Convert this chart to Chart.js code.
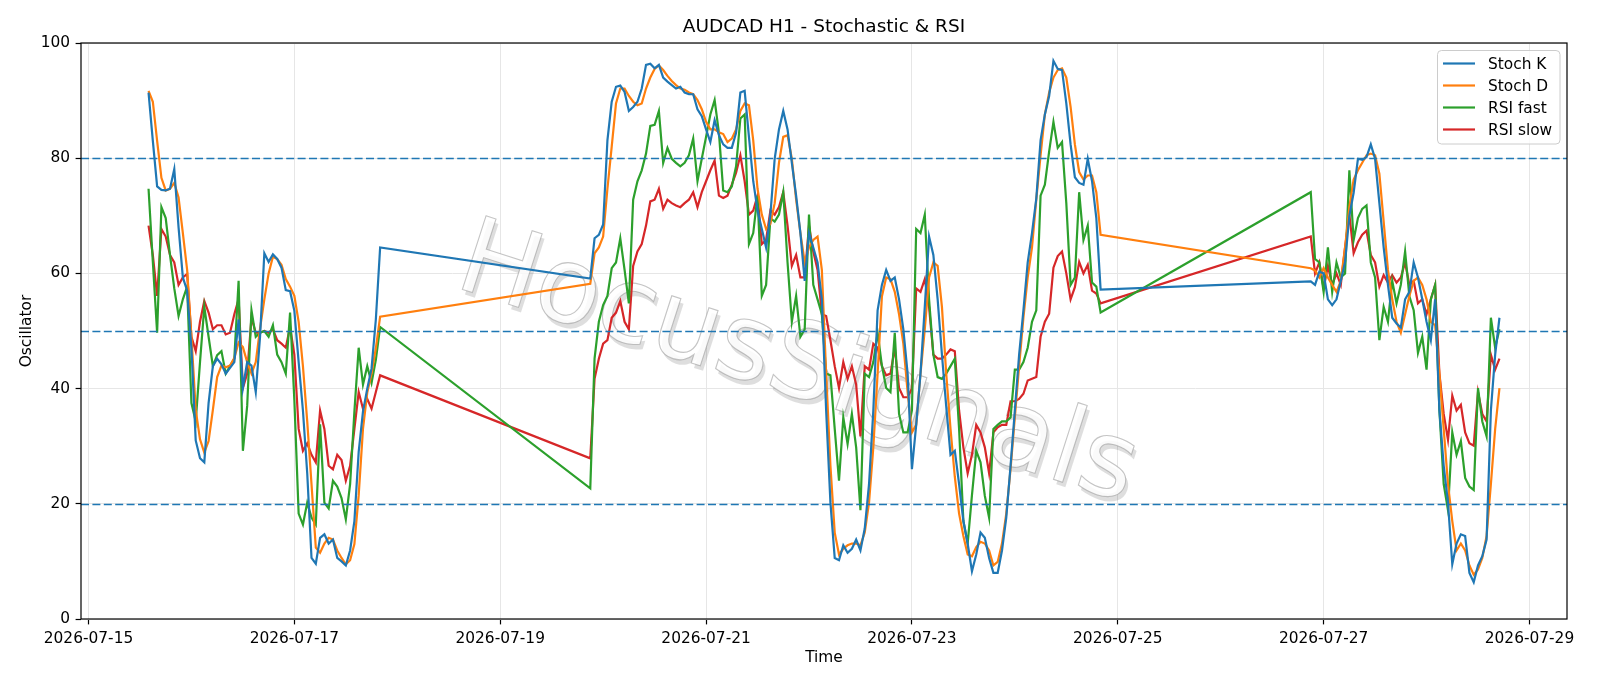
<!DOCTYPE html>
<html>
<head>
<meta charset="utf-8">
<title>AUDCAD H1 - Stochastic &amp; RSI</title>
<script src="https://cdn.jsdelivr.net/npm/chart.js@4.4.1/dist/chart.umd.min.js"></script>
<style>
  html, body { margin: 0; padding: 0; background: #fff; }
  #contenedor { width: 1600px; height: 686px; }
</style>
</head>
<body>
<div id="contenedor"><canvas id="graficaOsciladores" width="1600" height="686"></canvas></div>
<script>
// ====================================================================
// Datos (H1, una vela por hora; la línea une los huecos del fin de semana)
// ====================================================================

// sesiones de mercado: primera y última vela de cada tramo
const sesiones = [
    ['2026-07-15T14:00', '2026-07-17T20:00'],
    ['2026-07-19T21:00', '2026-07-24T20:00'],
    ['2026-07-26T21:00', '2026-07-28T17:00']
];

const etiquetasX = ['2026-07-15', '2026-07-17', '2026-07-19', '2026-07-21', '2026-07-23', '2026-07-25', '2026-07-27', '2026-07-29'];
const ticksY = [0, 20, 40, 60, 80, 100];
const nivelesGuia = [20, 50, 80];
const marcaAgua = 'HocusSignals';

const stochK = [
    // 15-17 jul
    91.4, 83, 75.1, 74.5, 74.4, 74.7, 78.1, 68, 59.3, 57,
    47, 31, 27.9, 27.2, 37.5, 43.9, 45.2, 44.2, 42.6, 43.6,
    44.6, 52, 40.1, 44.6, 44, 39.4, 49, 63.5, 62, 63.3,
    62.5, 61, 57.1, 56.9, 53.5, 44.6, 36.2, 25.3, 10.6, 9.6,
    14.1, 14.7, 13.1, 13.8, 10.6, 10, 9.3, 11.9, 17, 29,
    36, 40, 43.5, 52, 64.5,
    // 19-24 jul
    59.1, 66.1, 66.7, 68.5, 83.1, 89.8, 92.4, 92.6, 91.5, 88.2,
    88.9, 89.8, 92.1, 96.2, 96.4, 95.6, 96.2, 94, 93.3, 92.7,
    92.1, 92.4, 91.4, 91.1, 91.1, 88.5, 87.3, 85, 82.8, 86.6,
    84, 82.4, 81.8, 81.8, 84.4, 91.4, 91.7, 83.7, 76, 70.9,
    67.7, 64.5, 70.2, 79.9, 85, 88.2, 85, 79.2, 73.5, 67,
    58.7, 67, 64.5, 61.9, 55.5, 36.2, 20.2, 10.6, 10.2, 12.8,
    11.5, 12.2, 13.8, 11.9, 15.7, 23.4, 36.2, 53.6, 58, 60.6,
    58.7, 59.3, 55.5, 50.3, 42.6, 26, 33.7, 42.6, 54.2, 66.4,
    63.2, 55.5, 45.9, 36.9, 28.5, 29.2, 23.4, 17, 13.1, 8.3,
    11.2, 15, 14.1, 10.6, 8, 8, 11.9, 17.6, 26.6, 36.2,
    45.9, 53.6, 61.9, 67, 73, 83.1, 87.6, 90.8, 96.9, 95.5,
    95.3, 89.5, 82.4, 76.7, 75.7, 75.4, 79.9, 76, 69.6, 57.2,
    // 26-28 jul
    58.6, 58, 60.3, 60, 55.5, 54.5, 55.5, 58.7, 62, 70,
    74, 79.9, 79.7, 80.2, 82.4, 79.9, 72.2, 64.5, 58, 52.3,
    51.3, 50.6, 55.5, 56.8, 61.9, 59.3, 55.5, 51.6, 48.4, 55.5,
    36.2, 26.6, 20.2, 9.5, 13.1, 14.7, 14.4, 8, 6.4, 9.3,
    10.9, 13.8, 36.2, 45.9, 52.3
];

const stochD = [
    91.7, 89.8, 83, 76.6, 74.4, 74.7, 75.7, 73.2, 67, 60.6,
    49, 36.3, 31.2, 28.9, 30.9, 36.3, 42, 44, 43.7, 44,
    45.3, 48, 47.2, 44.6, 42.6, 44.6, 50.4, 55.5, 60, 62.9,
    62.5, 61.5, 59, 57.7, 56.1, 51.6, 43.9, 34.3, 23.4, 12.4,
    11.5, 13.1, 14.1, 13.8, 11.9, 10.6, 9.5, 10.2, 13, 21.5,
    33, 39.3, 42.6, 47, 52.5,
    58.2, 63.5, 64.5, 66.4, 74.7, 82, 89.5, 92.1, 92.1, 90.8,
    89.8, 89.2, 89.5, 92.1, 94, 95.5, 96.1, 95.3, 94.3, 93.4,
    92.7, 92.1, 91.9, 91.4, 91.1, 90.1, 88.5, 86.3, 85, 85,
    84.5, 84.2, 82.8, 83.4, 85, 88.2, 89.5, 89.2, 83.1, 74.7,
    70.2, 67.7, 68.6, 72.2, 79.2, 83.7, 84, 79.9, 72.8, 67,
    61.9, 64.5, 65.8, 66.4, 60.6, 42.6, 26.6, 15, 11.2, 12.2,
    12.8, 13.1, 13.1, 12.8, 15, 20.2, 29.8, 42.6, 56, 59.3,
    59, 56.8, 52.9, 47.8, 39.4, 32.4, 33.7, 42.6, 50.3, 59.3,
    61.9, 61.3, 54.2, 42.6, 33, 24.7, 18.3, 14.4, 11.2, 10.9,
    12.5, 13.4, 13.1, 11.9, 9.3, 9.9, 13.1, 18.3, 26, 35,
    43.9, 52.3, 59.3, 64.5, 72.8, 80.5, 87.6, 91.4, 94, 95.3,
    95.6, 94, 88.9, 82.4, 77.6, 76.3, 77, 77, 74.1, 66.7,
    60.9, 60.5, 59.3, 60.9, 59.3, 58, 56.8, 58.7, 64.5, 71.5,
    76.3, 77.9, 79.2, 80.5, 80.8, 80.5, 77.3, 69, 60.6, 55.5,
    51.6, 49.7, 52.9, 56.1, 58.7, 59.3, 58, 55.5, 51.6, 51,
    42.6, 33, 23.4, 17, 11.9, 13.1, 11.9, 9.3, 7.7, 8.6,
    10.6, 14.4, 23.4, 33, 40.1
];

const rsiFast = [
    74.7, 62, 49.7, 71.5, 69.6, 63.2, 57.4, 52.6, 55.5, 57.7,
    37.5, 34.3, 44.6, 54.2, 49, 43.9, 45.8, 46.5, 42.6, 43.9,
    45.2, 58.7, 29.2, 37, 53.6, 49, 49.7, 50, 49, 51,
    45.9, 44.6, 42.6, 53.2, 38, 18.3, 16.4, 20.2, 17.6, 16.4,
    33.8, 20.2, 19.2, 24, 23, 21, 17.3, 23.4, 36, 47.1,
    40.7, 43.9, 41, 45, 50.7,
    22.7, 45.2, 51.6, 54.5, 56.1, 60.9, 61.9, 66.1, 60.6, 54.8,
    72.8, 76, 77.9, 80.8, 85.6, 85.8, 88.2, 79.2, 81.8, 79.9,
    79.2, 78.6, 79.2, 80.5, 83.4, 76, 79.9, 83.7, 87.6, 90.1,
    84.4, 74.4, 74.1, 75.1, 78.6, 86.9, 87.6, 65.1, 67, 73.5,
    56.1, 58, 69.6, 69, 70.2, 74.1, 61.9, 51.6, 56.1, 49,
    50.3, 70.2, 58, 55.5, 52.9, 42.6, 42.3, 33, 24, 35,
    30.4, 35.6, 29.8, 18.9, 42.6, 42, 44.6, 49.7, 44, 40.1,
    39.4, 49.7, 35.6, 32.4, 32.4, 36.2, 67.7, 67, 70.2, 55.5,
    45.9, 42, 41.7, 42.6, 43.9, 45.2, 33, 17, 13.1, 21.5,
    29.2, 27.2, 21.4, 17.6, 33, 33.7, 34.3, 34.3, 35, 43.3,
    43.3, 44.6, 47.1, 51.6, 53.6, 73.5, 75.4, 81.2, 86.3, 81.8,
    82.8, 72.2, 58, 59.3, 74.1, 65.8, 68.3, 58.4, 57.7, 53.2,
    74.1, 62.5, 61.9, 56.8, 64.5, 56.8, 61.9, 59.3, 60, 77.9,
    65.8, 69.6, 71.2, 71.8, 61.9, 59.3, 48.4, 54.2, 51.6, 58.7,
    54.8, 58, 63.8, 56, 53.6, 46.2, 49, 43.3, 55.5, 58,
    36.2, 23.4, 18.9, 32.4, 28.5, 30.9, 24.5, 23, 22.4, 40.1,
    34.3, 31.7, 52.3, 47.1, 50.3
];

const rsiSlow = [
    68.3, 63.2, 56.1, 67.7, 66.4, 63.2, 61.9, 58, 59.3, 59.9,
    49, 46.5, 51.6, 55.2, 53.2, 50.3, 51, 51, 49.4, 49.7,
    52.9, 55.5, 40.1, 42.6, 52.3, 49.7, 49.7, 50, 49.7, 50.3,
    48.4, 47.8, 47.1, 50.7, 45.9, 33, 29.2, 30.5, 28.5, 27.2,
    36.2, 33, 26.6, 26, 28.5, 27.6, 24, 26.6, 33, 39.4,
    36.5, 38.2, 36.5, 39.4, 42.3,
    27.9, 41.7, 45.2, 47.8, 48.4, 52.3, 53.2, 55.2, 51.6, 50.3,
    61.3, 63.8, 65.1, 68.3, 72.5, 72.8, 74.7, 71.2, 72.8, 72.2,
    71.8, 71.5, 72.2, 72.8, 74.1, 71.5, 74.1, 76, 77.9, 79.6,
    73.5, 73.1, 73.5, 75.4, 77.5, 80.5, 76, 70.2, 70.9, 73.5,
    65.1, 65.8, 70.9, 70.2, 71.5, 74.1, 68.3, 61.3, 63.2, 59.3,
    59.3, 68.3, 63.8, 60.6, 52.9, 52.6, 48.4, 43.9, 40.1, 44.6,
    41.7, 43.9, 40.7, 31.7, 43.9, 43.3, 47.8, 47.1, 43.9, 42.3,
    42.6, 47.1, 40.1, 38.5, 38.5, 40, 57.4, 56.8, 59, 54.2,
    45.9, 45.2, 45.2, 45.9, 46.8, 46.5, 36.2, 29.8, 25.3, 28.5,
    33.7, 32.4, 29.8, 25.3, 32.4, 33.3, 33.7, 33.7, 37.8, 37.8,
    38.2, 39.1, 41.4, 41.7, 42, 49, 51.6, 53, 61, 63,
    63.8, 60, 55.5, 57.6, 62, 60, 61.5, 57, 56.5, 54.8,
    66.4, 60, 61.9, 57.4, 61.3, 58, 60, 58, 64.5, 70.2,
    63.5, 65.4, 66.7, 67.4, 63.2, 61.9, 57.7, 59.7, 58.4, 59.7,
    58.4, 59.3, 61.9, 58, 58.7, 54.8, 55.5, 52.9, 55.5, 58,
    42.6, 35.6, 31.1, 38.8, 36.2, 37.2, 32.4, 30.5, 30.1, 39.4,
    35.6, 34.3, 45.9, 43.3, 45.2
];

// ====================================================================
// Eje de tiempo: horas desde 2026-07-15 00:00 (no hay adaptador de fechas)
// ====================================================================
const ORIGEN = Date.parse('2026-07-15T00:00:00Z');
function aHoras(iso) {
    return (Date.parse(iso + (iso.length === 10 ? 'T00:00:00Z' : ':00Z')) - ORIGEN) / 3600000;
}

const tiempos = [];
sesiones.forEach(([ini, fin]) => {
    for (let h = aHoras(ini); h <= aHoras(fin); h++) tiempos.push(h);
});
const ticksX = etiquetasX.map(aHoras);

// margen del 5% a cada lado, como matplotlib
const margenX = (tiempos[tiempos.length - 1] - tiempos[0]) * 0.05;
const xMin = tiempos[0] - margenX;
const xMax = tiempos[tiempos.length - 1] + margenX;

const FUENTE = "'DejaVu Sans', Verdana, sans-serif";
const TAM = 15.4;

function serie(label, valores, color) {
    return {
        label: label,
        data: valores.map((v, i) => ({ x: tiempos[i], y: v })),
        borderColor: color,
        backgroundColor: color,
        borderWidth: 2.2,
        pointRadius: 0,
        tension: 0,
        fill: false
    };
}

// ====================================================================
// Plugin: marca de agua, líneas guía, marco, títulos y leyenda
// ====================================================================
const decoracion = {
    id: 'decoracion',
    beforeDatasetsDraw(chart) {
        const { ctx, chartArea: a } = chart;
        ctx.save();
        ctx.beginPath();
        ctx.rect(a.left, a.top, a.right - a.left, a.bottom - a.top);
        ctx.clip();
        ctx.translate(797, 368);
        ctx.rotate(17.8 * Math.PI / 180);
        ctx.font = '106px ' + FUENTE;
        ctx.textAlign = 'center';
        ctx.textBaseline = 'middle';
        // sombra
        ctx.fillStyle = 'rgba(0, 0, 0, 0.13)';
        ctx.fillText(marcaAgua, 4, 4);
        // texto
        ctx.fillStyle = 'rgba(255, 255, 255, 0.85)';
        ctx.fillText(marcaAgua, 0, 0);
        ctx.lineWidth = 1.1;
        ctx.strokeStyle = 'rgba(140, 140, 140, 0.5)';
        ctx.strokeText(marcaAgua, 0, 0);
        ctx.restore();
    },
    afterDatasetsDraw(chart) {
        const { ctx, chartArea: a, scales: { y } } = chart;
        ctx.save();
        ctx.strokeStyle = '#1f77b4';
        ctx.lineWidth = 1.6;
        ctx.setLineDash([8, 3.4]);
        nivelesGuia.forEach(n => {
            const py = Math.round(y.getPixelForValue(n)) + 0.5;
            ctx.beginPath();
            ctx.moveTo(a.left, py);
            ctx.lineTo(a.right, py);
            ctx.stroke();
        });
        ctx.restore();
    },
    afterDraw(chart) {
        const { ctx, chartArea: a } = chart;
        ctx.save();

        // marco
        ctx.strokeStyle = '#000';
        ctx.lineWidth = 1.2;
        ctx.strokeRect(a.left, a.top, a.right - a.left, a.bottom - a.top);

        // títulos
        ctx.fillStyle = '#000';
        ctx.textAlign = 'center';
        ctx.textBaseline = 'alphabetic';
        ctx.font = '18.5px ' + FUENTE;
        ctx.fillText('AUDCAD H1 - Stochastic & RSI', (a.left + a.right) / 2, 32);
        ctx.font = TAM + 'px ' + FUENTE;
        ctx.fillText('Time', (a.left + a.right) / 2, 662);
        ctx.save();
        ctx.translate(31, (a.top + a.bottom) / 2);
        ctx.rotate(-Math.PI / 2);
        ctx.fillText('Oscillator', 0, 0);
        ctx.restore();

        // leyenda
        const caja = { x: 1437.5, y: 50.5, w: 122.5, h: 93.5, r: 4 };
        ctx.beginPath();
        ctx.roundRect(caja.x, caja.y, caja.w, caja.h, caja.r);
        ctx.fillStyle = 'rgba(255, 255, 255, 0.8)';
        ctx.fill();
        ctx.strokeStyle = '#cccccc';
        ctx.lineWidth = 1;
        ctx.stroke();

        ctx.textAlign = 'left';
        ctx.textBaseline = 'middle';
        chart.data.datasets.forEach((ds, i) => {
            const cy = 63.5 + i * 22;
            ctx.strokeStyle = ds.borderColor;
            ctx.lineWidth = 2.2;
            ctx.beginPath();
            ctx.moveTo(1443, cy);
            ctx.lineTo(1475, cy);
            ctx.stroke();
            ctx.fillStyle = '#000';
            ctx.fillText(ds.label, 1488, cy + 1);
        });
        ctx.restore();
    }
};

// ====================================================================
// Gráfico
// ====================================================================
const ctx = document.getElementById('graficaOsciladores').getContext('2d');

const chartOsciladores = new Chart(ctx, {
    type: 'line',
    data: {
        datasets: [
            serie('Stoch K', stochK, '#1f77b4'),
            serie('Stoch D', stochD, '#ff7f0e'),
            serie('RSI fast', rsiFast, '#2ca02c'),
            serie('RSI slow', rsiSlow, '#d62728')
        ]
    },
    options: {
        responsive: false,
        animation: false,
        events: [],
        layout: {
            padding: { left: 0, right: 33, top: 43, bottom: 0 }
        },
        plugins: {
            legend: { display: false },
            title: { display: false },
            tooltip: { enabled: false }
        },
        scales: {
            x: {
                type: 'linear',
                min: xMin,
                max: xMax,
                afterBuildTicks: function(scale) {
                    scale.ticks = ticksX.map(v => ({ value: v }));
                },
                afterFit: function(scale) {
                    scale.height = 67;
                },
                border: { display: false },
                grid: {
                    color: '#e6e6e6',
                    lineWidth: 1,
                    tickLength: 5.4,
                    tickColor: '#000',
                    tickWidth: 1.2
                },
                ticks: {
                    autoSkip: false,
                    maxRotation: 0,
                    padding: 5,
                    color: '#000',
                    font: { family: FUENTE, size: TAM },
                    callback: function(value, index) {
                        return etiquetasX[index];
                    }
                }
            },
            y: {
                min: 0,
                max: 100,
                afterBuildTicks: function(scale) {
                    scale.ticks = ticksY.map(v => ({ value: v }));
                },
                afterFit: function(scale) {
                    scale.width = 81;
                },
                border: { display: false },
                grid: {
                    color: '#e6e6e6',
                    lineWidth: 1,
                    tickLength: 5.4,
                    tickColor: '#000',
                    tickWidth: 1.2
                },
                ticks: {
                    padding: 5.5,
                    color: '#000',
                    font: { family: FUENTE, size: TAM },
                    callback: function(value) {
                        return String(value);
                    }
                }
            }
        }
    },
    plugins: [decoracion]
});
</script>
</body>
</html>
